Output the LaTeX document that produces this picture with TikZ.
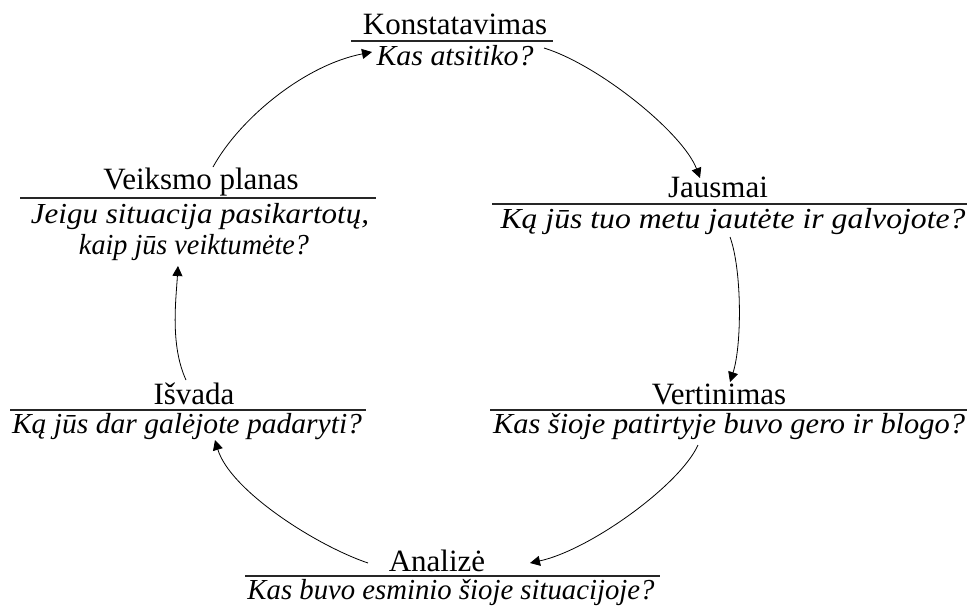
\documentclass[tikz,border=0pt]{standalone}
\usepackage{fontspec}
\setmainfont{Liberation Serif}
\usetikzlibrary{arrows.meta,calc}
\newcommand{\qwid}[2]{\resizebox{#1}{\height}{#2}}
\begin{document}
\begin{tikzpicture}[x=1pt,y=-1pt,
  ttl/.style={anchor=base,inner sep=0pt,font=\fontsize{31}{31}\selectfont},
  qst/.style={anchor=base,inner sep=0pt,font=\fontsize{29}{29}\selectfont\itshape},
  rulel/.style={line width=1.4pt,draw=black!85},
  flow/.style={line width=0.8pt,-{Triangle[length=10pt,width=10pt]}}]
\useasboundingbox (0,0) rectangle (976,606);
% Konstatavimas
\node[ttl] (kt) at (455,34) {Konstatavimas};
\node[qst] (kq) at (455,65) {\qwid{157pt}{Kas atsitiko?}};
\draw[rulel] (351,41) -- (553,41);
% Jausmai
\node[ttl] (jt) at (718,197) {Jausmai};
\node[qst] (jq) at (733,228) {\qwid{465pt}{Ką jūs tuo metu jautėte ir galvojote?}};
\draw[rulel] (492,204) -- (967,204);
% Veiksmo planas
\node[ttl] (vt) at (201,189) {Veiksmo planas};
\node[qst] (vq1) at (200,223) {\qwid{338pt}{Jeigu situacija pasikartotų,}};
\node[qst] (vq2) at (194,254) {\qwid{230pt}{kaip jūs veiktumėte?}};
\draw[rulel] (20,198) -- (376,198);
% Vertinimas
\node[ttl] (vrt) at (719,404) {Vertinimas};
\node[qst] (vrq) at (729,433) {\qwid{472pt}{Kas šioje patirtyje buvo gero ir blogo?}};
\draw[rulel] (490,410) -- (967,410);
% Isvada
\node[ttl] (it) at (194,404) {Išvada};
\node[qst] (iq) at (187,433) {\qwid{350pt}{Ką jūs dar galėjote padaryti?}};
\draw[rulel] (10,410) -- (366,410);
% Analize
\node[ttl] (at) at (437,571) {Analizė};
\node[qst] (aq) at (451,599) {\qwid{407pt}{Kas buvo esminio šioje situacijoje?}};
\draw[rulel] (245,576) -- (660,576);
% connectors
\draw[flow] ($(it.base)+(-8,-24)$) .. controls (170,345) and (176,300) .. ($(vq2.base)+(-16,12)$);
\draw[flow] ($(vt.base)+(12,-22)$) .. controls (240,118) and (305,65) .. ($(kq.base)+(-83,-13)$);
\draw[flow] ($(kq.base)+(89,-17)$) .. controls (599,65) and (683,133) .. ($(jt.base)+(-18,-19)$);
\draw[flow] ($(jq.base)+(-3,9)$) .. controls (742,270) and (742,345) .. ($(vrt.base)+(11,-22)$);
\draw[flow] ($(vrq.base)+(-31,12)$) .. controls (680,485) and (590,550) .. ($(at.base)+(93,-8)$);
\draw[flow] ($(at.base)+(-69,-8)$) .. controls (315,545) and (230,490) .. ($(iq.base)+(28,7)$);
\end{tikzpicture}
\end{document}
